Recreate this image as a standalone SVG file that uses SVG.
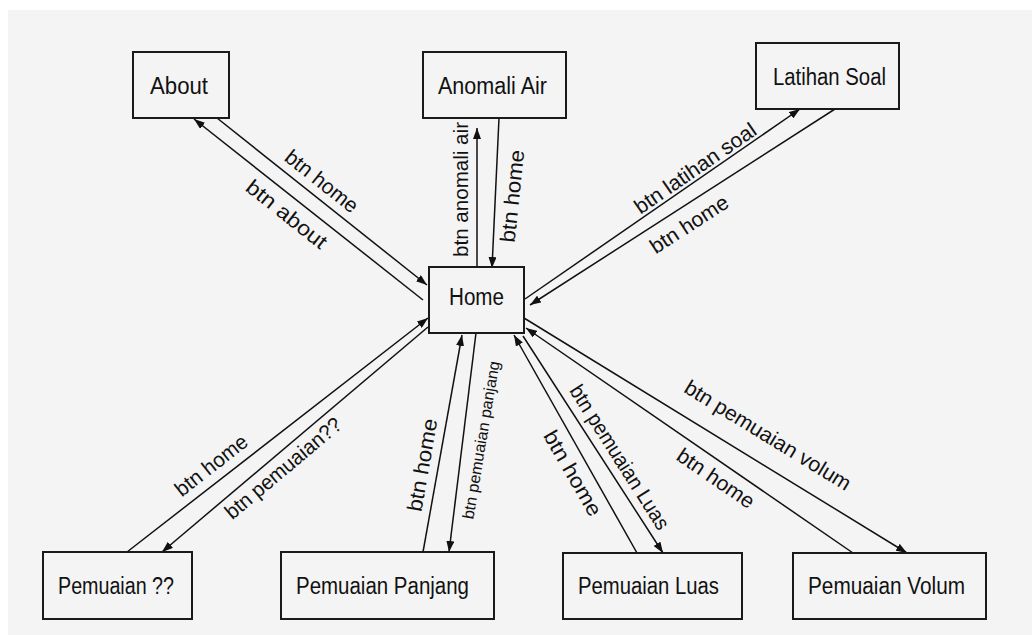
<svg xmlns="http://www.w3.org/2000/svg" width="1032" height="635" viewBox="0 0 1032 635">
<defs>
<style>
.box{fill:#f4f4f4;stroke:#1a1a1a;stroke-width:2}
.nt{font-family:"Liberation Sans",Arial,sans-serif;font-size:23.5px;fill:#111;text-anchor:middle}
.el{font-family:"Liberation Sans",Arial,sans-serif;font-size:21px;fill:#111;text-anchor:middle;dominant-baseline:central}
.ln{stroke:#111;stroke-width:1.5;fill:none}
.ar{marker-end:url(#ah)}
</style>
<marker id="ah" markerUnits="userSpaceOnUse" markerWidth="11" markerHeight="8" refX="11" refY="4" orient="auto">
<path d="M0,0 L11,4 L0,8 z" fill="#111"/>
</marker>
</defs>
<rect x="0" y="0" width="1032" height="635" fill="#ffffff"/>
<rect x="8" y="10" width="1024" height="625" fill="#f4f4f4"/>

<g id="connectors">
<line class="ln ar" x1="217" y1="118" x2="427" y2="285"/>
<line class="ln ar" x1="423" y1="300" x2="194" y2="119"/>
<line class="ln ar" x1="477" y1="267" x2="477" y2="128"/>
<line class="ln ar" x1="499" y1="118" x2="492" y2="268"/>
<line class="ln ar" x1="525" y1="299" x2="800" y2="109"/>
<line class="ln ar" x1="835" y1="109" x2="530" y2="305"/>
<line class="ln ar" x1="127" y1="552" x2="428" y2="318"/>
<line class="ln ar" x1="428" y1="327" x2="162" y2="552"/>
<line class="ln ar" x1="423" y1="552" x2="462" y2="335"/>
<line class="ln ar" x1="476" y1="333" x2="449" y2="552"/>
<line class="ln ar" x1="637" y1="553" x2="514" y2="335"/>
<line class="ln ar" x1="523" y1="336" x2="663" y2="553"/>
<line class="ln ar" x1="853" y1="553" x2="526" y2="328"/>
<line class="ln ar" x1="524" y1="318" x2="907" y2="553"/>

<text class="el" transform="translate(322,181) rotate(38.5)" textLength="87" lengthAdjust="spacingAndGlyphs">btn home</text>
<text class="el" transform="translate(287,214) rotate(38.5)" textLength="97" lengthAdjust="spacingAndGlyphs">btn about</text>
<text class="el" transform="translate(460.5,189.5) rotate(-90)" textLength="135" lengthAdjust="spacingAndGlyphs">btn anomali air</text>
<text class="el" transform="translate(512,196) rotate(-84)" textLength="93" lengthAdjust="spacingAndGlyphs">btn home</text>
<text class="el" transform="translate(695,168) rotate(-34.6)" textLength="143" lengthAdjust="spacingAndGlyphs">btn latihan soal</text>
<text class="el" transform="translate(689,224) rotate(-33)" textLength="89" lengthAdjust="spacingAndGlyphs">btn home</text>
<text class="el" transform="translate(211,465) rotate(-38)" textLength="86" lengthAdjust="spacingAndGlyphs">btn home</text>
<text class="el" transform="translate(283,468) rotate(-40)" textLength="145" lengthAdjust="spacingAndGlyphs">btn pemuaian??</text>
<text class="el" transform="translate(422,465) rotate(-80)" textLength="94" lengthAdjust="spacingAndGlyphs">btn home</text>
<text class="el" style="font-size:16px" transform="translate(481,440) rotate(-80.5)" textLength="160" lengthAdjust="spacingAndGlyphs">btn pemuaian panjang</text>
<text class="el" transform="translate(573,473) rotate(60)" textLength="95" lengthAdjust="spacingAndGlyphs">btn home</text>
<text class="el" transform="translate(620,457) rotate(57.5)" textLength="167" lengthAdjust="spacingAndGlyphs">btn pemuaian Luas</text>
<text class="el" transform="translate(716,478) rotate(34.4)" textLength="89" lengthAdjust="spacingAndGlyphs">btn home</text>
<text class="el" transform="translate(768,435) rotate(31.5)" textLength="191" lengthAdjust="spacingAndGlyphs">btn pemuaian volum</text>
</g>

<g id="about"><rect class="box" x="133" y="52" width="96" height="66"/><text class="nt" x="179" y="94" textLength="58" lengthAdjust="spacingAndGlyphs">About</text></g>
<g id="anomali-air"><rect class="box" x="423" y="52" width="143" height="66"/><text class="nt" x="492.5" y="94" textLength="109" lengthAdjust="spacingAndGlyphs">Anomali Air</text></g>
<g id="latihan-soal"><rect class="box" x="756" y="43" width="143" height="66"/><text class="nt" x="829.5" y="85" textLength="113" lengthAdjust="spacingAndGlyphs">Latihan Soal</text></g>
<g id="home"><rect class="box" x="429" y="267" width="95" height="66"/><text class="nt" x="476.5" y="305" textLength="55" lengthAdjust="spacingAndGlyphs">Home</text></g>
<g id="pemuaian-qq"><rect class="box" x="43" y="552" width="149" height="67"/><text class="nt" x="116" y="594" textLength="116" lengthAdjust="spacingAndGlyphs">Pemuaian ??</text></g>
<g id="pemuaian-panjang"><rect class="box" x="281" y="552" width="213" height="67"/><text class="nt" x="382.5" y="594" textLength="173" lengthAdjust="spacingAndGlyphs">Pemuaian Panjang</text></g>
<g id="pemuaian-luas"><rect class="box" x="563" y="553" width="179" height="66"/><text class="nt" x="648.5" y="594" textLength="141" lengthAdjust="spacingAndGlyphs">Pemuaian Luas</text></g>
<g id="pemuaian-volum"><rect class="box" x="793" y="553" width="193" height="66"/><text class="nt" x="886.5" y="594" textLength="157" lengthAdjust="spacingAndGlyphs">Pemuaian Volum</text></g>
</svg>
